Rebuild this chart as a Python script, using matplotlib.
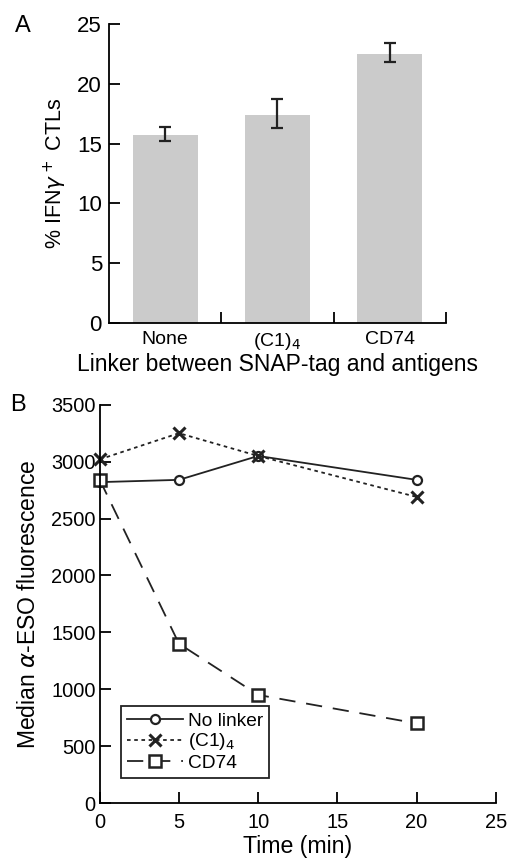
import matplotlib
matplotlib.use('Agg')
import matplotlib.pyplot as plt
import numpy as np

plt.rcParams['font.family'] = ['Liberation Sans', 'DejaVu Sans']

# Панель A: доля IFNγ+ CTL
linkers = ['None', '(C1)$_4$', 'CD74']
ifn_means = [15.7, 17.4, 22.5]
ifn_low = [15.2, 16.3, 21.8]
ifn_high = [16.4, 18.7, 23.4]

# Панель B: медиана флуоресценции
time_min = [0, 5, 10, 20]
no_linker = [2820, 2840, 3050, 2840]
c1_4 = [3020, 3250, 3050, 2690]
cd74 = [2840, 1400, 950, 700]

fig = plt.figure(figsize=(5.09, 8.63), dpi=100)

# ---- A ----
axA = fig.add_axes([0.214, 0.626, 0.662, 0.346])
x = np.arange(len(linkers))
yerr = [np.array(ifn_means) - np.array(ifn_low), np.array(ifn_high) - np.array(ifn_means)]
axA.bar(x, ifn_means, width=0.58, color='#cbcbcb')
axA.errorbar(x, ifn_means, yerr=yerr, fmt='none', ecolor='#222222', elinewidth=1.6,
             capsize=4, capthick=1.6)
axA.set_xlim(-0.5, 2.5)
axA.set_ylim(0, 25)
axA.set_yticks([0, 5, 10, 15, 20, 25])
axA.set_xticks(x)
axA.set_xticklabels(linkers, fontsize=14)
axA.set_xticks([0.5, 1.5, 2.5], minor=True)
axA.tick_params(axis='x', which='major', length=0, pad=6)
axA.tick_params(axis='x', which='minor', direction='in', length=8, width=1.3)
axA.tick_params(axis='y', direction='in', length=8, width=1.3, labelsize=16, pad=5)
axA.set_ylabel('% IFN$\\gamma^+$ CTLs', fontsize=15.5, labelpad=6)
axA.set_xlabel('Linker between SNAP-tag and antigens', fontsize=16.5, labelpad=1)
for s in ['top', 'right']:
    axA.spines[s].set_visible(False)
for s in ['left', 'bottom']:
    axA.spines[s].set_linewidth(1.3)
fig.text(0.03, 0.963, 'A', fontsize=17)

# ---- B ----
axB = fig.add_axes([0.196, 0.0695, 0.778, 0.4615])
axB.plot(time_min, no_linker, color='#222222', lw=1.3, marker='o', ms=6.5,
         mfc='white', mec='#222222', mew=1.6, label='No linker', clip_on=False)
axB.plot(time_min, c1_4, color='#222222', lw=1.3, ls=(0, (2, 2)), marker='x', ms=8,
         mew=2.2, label='(C1)$_4$', clip_on=False)
axB.plot(time_min, cd74, color='#222222', lw=1.3, ls=(0, (9, 6)), marker='s', ms=8.5,
         mfc='white', mec='#222222', mew=1.8, label='CD74', clip_on=False)
axB.set_xlim(0, 25)
axB.set_ylim(0, 3500)
axB.set_xticks([0, 5, 10, 15, 20, 25])
axB.set_yticks(np.arange(0, 3501, 500))
axB.tick_params(direction='in', length=8, width=1.3, labelsize=14.4)
axB.tick_params(axis='x', pad=7)
axB.tick_params(axis='y', pad=3)
axB.set_xlabel('Time (min)', fontsize=16.7, labelpad=2)
axB.set_ylabel('Median $\\alpha$-ESO fluorescence', fontsize=16.5, labelpad=8)
for s in ['top', 'right']:
    axB.spines[s].set_visible(False)
for s in ['left', 'bottom']:
    axB.spines[s].set_linewidth(1.3)
leg = axB.legend(loc='lower left', bbox_to_anchor=(0.03, 0.04), fontsize=13.8,
                 fancybox=False, edgecolor='#222222', framealpha=1,
                 handlelength=2.9, handletextpad=0.3, borderpad=0.3, labelspacing=0.1)
leg.get_frame().set_linewidth(1.3)
fig.text(0.02, 0.524, 'B', fontsize=17)

fig.savefig('out.png', dpi=100)
